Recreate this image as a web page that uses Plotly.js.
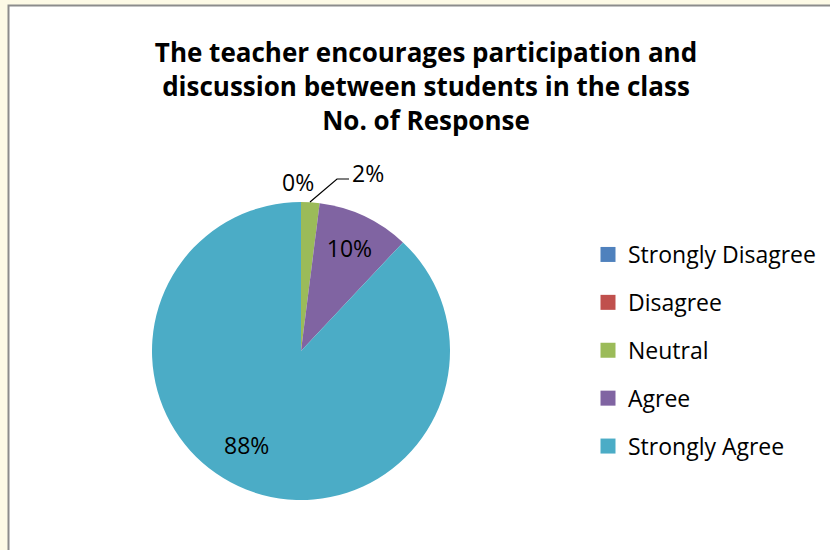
<!DOCTYPE html>
<html>
<head>
<meta charset="utf-8">
<script src="https://cdn.plot.ly/plotly-3.0.1.min.js"></script>
<style>html,body{margin:0;padding:0;background:#fdfae6;}#chart{width:830px;height:550px;}</style>
</head>
<body>
<div id="chart"></div>
<script>
// Data
var categories = ['Strongly Disagree', 'Disagree', 'Neutral', 'Agree', 'Strongly Agree'];
var responses = [0, 0, 1, 5, 44];
var colors = ['#4f81bd', '#c0504d', '#9bbb59', '#8064a2', '#4bacc6'];
var titleText = 'The teacher encourages participation and<br>discussion between students in the class<br>No. of Response';

var FONT = '"Open Sans", Lato, sans-serif';
var total = responses.reduce(function (a, b) { return a + b; }, 0);
function pct(v) { return Math.round(100 * v / total) + '%'; }

// only the mid-sized slice keeps Plotly's own inside label; the others are placed like Excel's
var nativeLabel = [false, false, false, true, false];

var pieTrace = {
  type: 'pie',
  labels: categories,
  values: responses,
  marker: { colors: colors, line: { width: 0 } },
  sort: false,
  direction: 'clockwise',
  rotation: 0,
  textinfo: 'percent',
  textposition: nativeLabel.map(function (b) { return b ? 'inside' : 'none'; }),
  insidetextorientation: 'horizontal',
  textfont: { family: FONT, size: 23, color: '#000' },
  showlegend: false,
  hoverinfo: 'label+value+percent',
  domain: { x: [152 / 830, 450 / 830], y: [50 / 550, 348 / 550] }
};

// Legend entries (one group per category, to give Excel-like spacing)
var legendTraces = categories.map(function (c, i) {
  return {
    type: 'scatter', mode: 'markers', x: [null], y: [null],
    name: c, legendgroup: 'g' + i,
    marker: { symbol: 'square', size: 15, color: colors[i] },
    hoverinfo: 'skip', showlegend: true
  };
});

function lbl(text, px, py) {
  return { text: text, xref: 'paper', yref: 'paper', x: px / 830, y: 1 - py / 550,
    xanchor: 'center', yanchor: 'middle',
    showarrow: false, font: { family: FONT, size: 23, color: '#000' } };
}
var annotations = [
  lbl(pct(responses[0]), 298, 182),
  lbl(pct(responses[2]), 368, 173),
  lbl(pct(responses[4]), 246, 445)
];

var layout = {
  width: 830, height: 550,
  margin: { l: 0, r: 0, t: 0, b: 0 },
  paper_bgcolor: '#fdfae6',
  plot_bgcolor: 'rgba(0,0,0,0)',
  title: {
    text: titleText,
    font: { family: FONT, size: 26, color: '#000', weight: 'bold' },
    x: 426 / 830, xanchor: 'center', y: 1 - 62 / 550, yanchor: 'middle'
  },
  xaxis: { visible: false, range: [0, 1], fixedrange: true },
  yaxis: { visible: false, range: [0, 1], fixedrange: true },
  legend: {
    x: 588 / 830, y: 1 - 233 / 550, xanchor: 'left', yanchor: 'top',
    font: { family: FONT, size: 23, color: '#000' },
    tracegroupgap: 15, bgcolor: 'rgba(0,0,0,0)', itemclick: false
  },
  shapes: [
    { type: 'rect', xref: 'paper', yref: 'paper', x0: 8.5 / 830, x1: 1.05, y0: -0.05, y1: 1 - 5.5 / 550,
      line: { color: '#8c8c8c', width: 2 }, fillcolor: '#ffffff', layer: 'below' },
    { type: 'path', xref: 'paper', yref: 'paper',
      path: 'M ' + (310 / 830) + ' ' + (1 - 202 / 550) + ' L ' + (337 / 830) + ' ' + (1 - 179 / 550) + ' L ' + (349 / 830) + ' ' + (1 - 179 / 550),
      line: { color: '#000', width: 1.2 } }
  ],
  annotations: annotations
};

Plotly.newPlot('chart', [pieTrace].concat(legendTraces), layout, { staticPlot: true, displayModeBar: false });
</script>
</body>
</html>
